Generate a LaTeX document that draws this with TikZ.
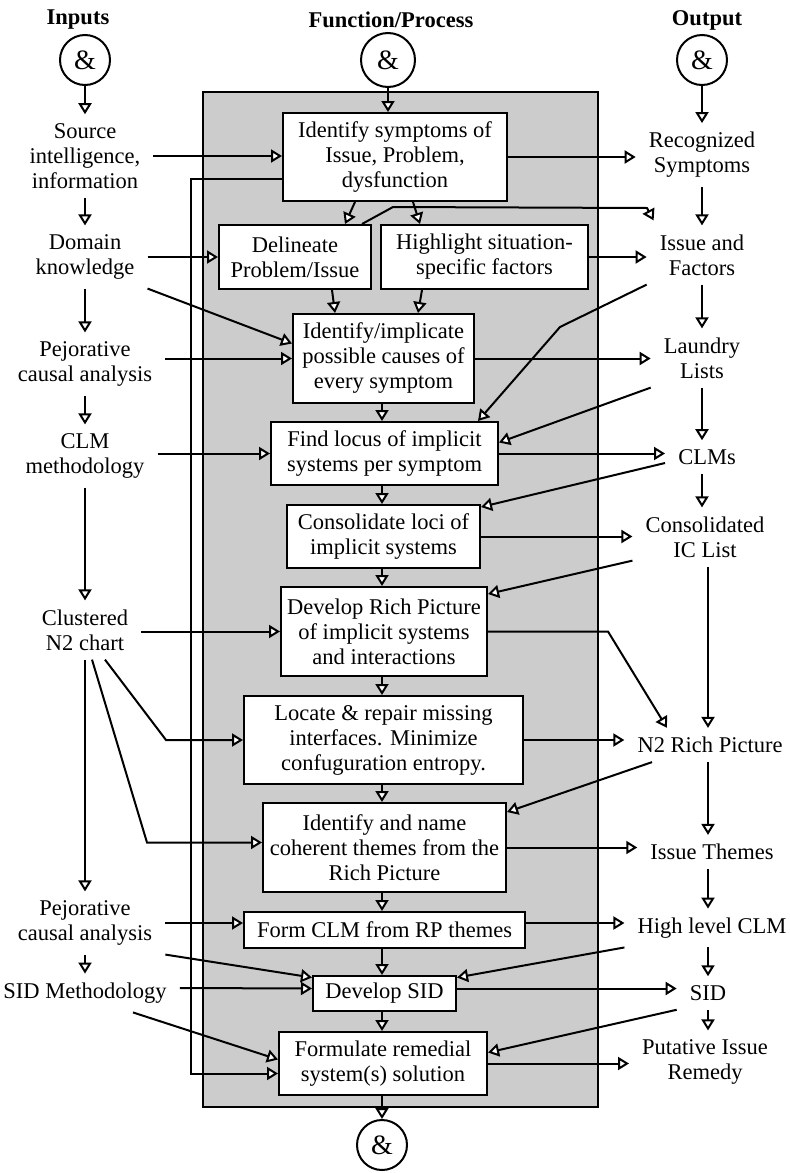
\documentclass[tikz,border=0pt]{standalone}
\usepackage{fontspec}
\setmainfont{Liberation Serif}
\usetikzlibrary{arrows.meta}

\begin{document}
\begin{tikzpicture}[x=1pt,y=-1pt]
	\tikzstyle{every node}=[font=\fontsize{22.5}{25}\selectfont]
	\tikzstyle{head}=[font=\fontsize{22.5}{25}\selectfont\bfseries]
	\tikzstyle{andcirc}=[draw, circle, line width=2pt, minimum size=50pt, inner sep=0pt, font=\fontsize{28}{30}\selectfont]
	\tikzstyle{procbox}=[draw, fill=white, line width=2pt, align=center, inner xsep=3pt, inner ysep=0pt]
	\tikzstyle{sidetext}=[align=center, inner xsep=13pt, inner ysep=9pt]
	\tikzstyle{arr}=[line width=2pt, -{Triangle[fill=white, length=11pt, width=13pt]}]
	\useasboundingbox (0,0) rectangle (790,1173);
	\draw [line width=2pt, fill=black!20] (203,92) rectangle (598,1107);
	\coordinate (axis) at (382,0);
	% headings and junctions
	\node[head] (hin) at (78,20) {Inputs};
	\node[head] (hproc) at (391,20) {Function/Process};
	\node[head] (hout) at (707,20) {Output};
	\node[andcirc] (incirc) at (85,60) {\&};
	\node[andcirc, minimum size=54pt] (proccirc) at (388,60) {\&};
	\node[andcirc] (outcirc) at (702,60) {\&};
	\node[andcirc] (endcirc) at (382,1145) {\&};
	% inputs
	\node[sidetext] (src) at (85,156) {Source\\intelligence,\\information};
	\node[sidetext] (dom) at (85,257) {Domain\\knowledge};
	\node[sidetext] (pej1) at (85,364) {Pejorative\\causal analysis};
	\node[sidetext] (clm) at (85,456) {CLM\\methodology};
	\node[sidetext] (clus) at (85,630) {Clustered\\N2 chart};
	\node[sidetext] (pej2) at (85,923) {Pejorative\\causal analysis};
	\node[sidetext] (sidm) at (85,993) {SID Methodology};
	% process
	\node[procbox, minimum width=224pt, minimum height=88pt] (symp) at (395,157) {Identify symptoms of\\Issue, Problem,\\dysfunction};
	\node[procbox, minimum width=152pt, minimum height=64pt] (delin) at (295,257) {Delineate\\Problem/Issue};
	\node[procbox, minimum width=207pt, minimum height=64pt] (highl) at (484.5,257) {Highlight situation-\\specific factors};
	\node[procbox, minimum width=181pt, minimum height=89pt] (causes) at (383.5,358.5) {Identify/implicate\\possible causes of\\every symptom};
	\node[procbox, minimum width=227pt, minimum height=63pt] (locus) at (384.5,453.5) {Find locus of implicit\\systems per symptom};
	\node[procbox, minimum width=193pt, minimum height=63pt] (consol) at (383.5,536.5) {Consolidate loci of\\implicit systems};
	\node[procbox, minimum width=206pt, minimum height=89pt] (richpic) at (384,631.5) {Develop Rich Picture\\of implicit systems\\and interactions};
	\node[procbox, minimum width=279pt, minimum height=88pt] (locate) at (383.5,740) {Locate \& repair missing\\interfaces. Minimize\\confuguration entropy.};
	\node[procbox, minimum width=243pt, minimum height=89pt] (themes) at (384.5,847.5) {Identify and name\\coherent themes from the\\Rich Picture};
	\node[procbox, minimum width=281pt, minimum height=36pt] (formclm) at (384.5,930) {Form CLM from RP themes};
	\node[procbox, minimum width=143pt, minimum height=35pt] (devsid) at (384.5,993.5) {Develop SID};
	\node[procbox, minimum width=208pt, minimum height=63pt] (remedy) at (383,1063.5) {Formulate remedial\\system(s) solution};
	% outputs
	\node[sidetext] (recog) at (702,155) {Recognized\\Symptoms};
	\node[sidetext] (issue) at (702,255) {Issue and\\Factors};
	\node[sidetext] (laundry) at (702,358) {Laundry\\Lists};
	\node[sidetext] (clms) at (707,457) {CLMs};
	\node[sidetext] (conic) at (705,537) {Consolidated\\IC List};
	\node[sidetext] (n2rp) at (710,745) {N2 Rich Picture};
	\node[sidetext] (ithemes) at (712,852) {Issue Themes};
	\node[sidetext] (hlclm) at (712,928) {High level CLM};
	\node[sidetext] (sid) at (708,993) {SID};
	\node[sidetext] (putative) at (705,1062) {Putative Issue\\Remedy};
	\coordinate (themesin) at ([yshift=5pt]themes.west);
	\coordinate (formout) at ([yshift=7pt]formclm.east);
	\coordinate (sidout) at ([yshift=5pt]devsid.east);
	% input column
	\draw[arr] (incirc.south) -- (incirc.south |- src.north);
	\draw[arr] (src.south) -- (dom.north);
	\draw[arr] (dom.south) -- (pej1.north);
	\draw[arr] (pej1.south) -- (clm.north);
	\draw[arr] (clm.south) -- (clus.north);
	\draw[arr] (clus.south) -- (pej2.north);
	\draw[arr] (pej2.south) -- (sidm.north);
	% inputs into process
	\draw[arr] (src.east) -- (src.east -| symp.west);
	\draw[arr] (dom.east) -- (dom.east -| delin.west);
	\draw[arr] (dom.south east) -- ([yshift=15pt]causes.west);
	\draw[arr] (pej1.east |- causes.west) -- (causes.west);
	\draw[arr] (clm.east |- locus.west) -- (locus.west);
	\draw[arr] (clus.east |- richpic.west) -- (richpic.west);
	\draw[arr] ([xshift=20pt]clus.south) -- (locate.west -| 166,0) -- (locate.west);
	\draw[arr] ([xshift=7pt]clus.south) -- (themesin -| 147,0) -- (themesin);
	\draw[arr] (pej2.east) -- (pej2.east -| formclm.west);
	\draw[arr] (pej2.south east) -- ([yshift=16pt]devsid.west);
	\draw[arr] ([yshift=5pt]sidm.east) -- ([yshift=5pt]devsid.west);
	\draw[arr] ([xshift=48pt]sidm.south) -- ([yshift=4pt]remedy.west);
	\draw[arr] ([yshift=-22pt]symp.west) -- ++(-91,0) |- ([yshift=-10pt]remedy.west);
	% process column
	\draw[arr] (proccirc.south) -- (proccirc.south |- symp.north);
	\draw[arr] ([xshift=-40pt]symp.south) -- ([xshift=50pt]delin.north);
	\draw[arr] ([xshift=18pt]symp.south) -- ([xshift=-64.5pt]highl.north);
	\draw[arr] ([xshift=37pt]delin.south) -- ([xshift=-48.5pt]causes.north);
	\draw[arr] ([xshift=-62.5pt]highl.south) -- ([xshift=34.5pt]causes.north);
	\draw[arr] (causes.south -| axis) -- (locus.north -| axis);
	\draw[arr] (locus.south -| axis) -- (consol.north -| axis);
	\draw[arr] (consol.south -| axis) -- (richpic.north -| axis);
	\draw[arr] (richpic.south -| axis) -- (locate.north -| axis);
	\draw[arr] (locate.south -| axis) -- (themes.north -| axis);
	\draw[arr] (themes.south -| axis) -- (formclm.north -| axis);
	\draw[arr] (formclm.south -| axis) -- (devsid.north -| axis);
	\draw[arr] (devsid.south -| axis) -- (remedy.north -| axis);
	\draw[arr] (remedy.south -| axis) -- (endcirc.north);
	% process to outputs
	\draw[arr] (symp.east) -- (symp.east -| recog.west);
	\draw[arr] ([xshift=67pt]delin.north) -- ++(31,-17) -- (647,208) -- ([xshift=7pt,yshift=5pt]issue.north west);
	\draw[arr] (highl.east) -- (highl.east -| issue.west);
	\draw[arr] (causes.east) -- (causes.east -| laundry.west);
	\draw[arr] (locus.east) -- (locus.east -| clms.west);
	\draw[arr] (consol.east) -- (consol.east -| conic.west);
	\draw[arr] (richpic.east) -- ++(120,0) -- ([xshift=-43pt]n2rp.north);
	\draw[arr] (locate.east) -- (locate.east -| n2rp.west);
	\draw[arr] (themes.east) -- (themes.east -| ithemes.west);
	\draw[arr] (formout) -- (formout -| hlclm.west);
	\draw[arr] (sidout) -- (sidout -| sid.west);
	\draw[arr] (remedy.east) -- (remedy.east -| putative.west);
	% outputs fed back
	\draw[arr] (issue.south west) -- (560,327) -- ([xshift=93.5pt]locus.north);
	\draw[arr] (laundry.south west) -- ([yshift=11pt]locus.east);
	\draw[arr] ([yshift=-6pt]clms.west) -- ([yshift=-3pt]consol.north east);
	\draw[arr] ([yshift=6pt]conic.south west) -- ([yshift=-8pt]richpic.north east);
	\draw[arr] ([xshift=-58pt]n2rp.south) -- ([yshift=-10pt]themes.north east);
	\draw[arr] (hlclm.south west) -- ([yshift=16pt]devsid.east);
	\draw[arr] (sid.south west) -- ([yshift=11pt]remedy.east);
	% output column
	\draw[arr] (outcirc.south) -- (outcirc.south |- recog.north);
	\draw[arr] (recog.south) -- (recog.south |- issue.north);
	\draw[arr] (issue.south) -- (issue.south |- laundry.north);
	\draw[arr] (laundry.south) -- (laundry.south |- clms.north);
	\draw[arr] (clms.south -| laundry) -- (laundry |- conic.north);
	\draw[arr] (sid |- conic.south) -- (sid |- n2rp.north);
	\draw[arr] (sid |- n2rp.south) -- (sid |- ithemes.north);
	\draw[arr] (sid |- ithemes.south) -- (sid |- hlclm.north);
	\draw[arr] (sid |- hlclm.south) -- (sid.north);
	\draw[arr] (sid.south) -- (sid.south |- putative.north);
\end{tikzpicture}
\end{document}
